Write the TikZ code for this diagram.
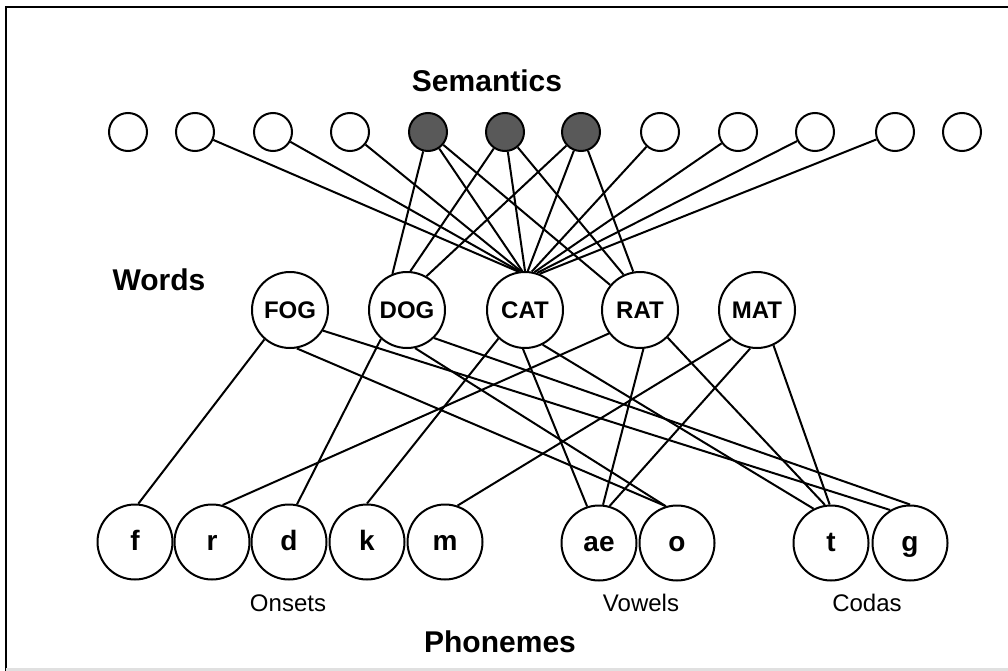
\documentclass[tikz,border=0pt]{standalone}
\usepackage{fontspec}
\setmainfont{Liberation Sans}
\begin{document}
\begin{tikzpicture}[x=1pt,y=-1pt,line width=2pt,
  sem/.style={circle,draw,minimum size=38pt,inner sep=0pt},
  semon/.style={sem,fill=black!65},
  word/.style={circle,draw,minimum size=76pt,inner sep=0pt,font=\fontsize{24}{24}\selectfont\bfseries},
  phon/.style={circle,draw,minimum size=75pt,inner sep=0pt,text height=18pt,text depth=2pt,font=\fontsize{28}{28}\selectfont\bfseries},
  layer/.style={font=\fontsize{30}{30}\selectfont\bfseries},
  group/.style={font=\fontsize{24}{24}\selectfont}]

\useasboundingbox (0,0) rectangle (1008,671);
\draw[line width=2.5pt] (6,671) -- (6,7) -- (1008,7);
\draw[black!12,line width=3pt] (6,669.5) -- (1008,669.5);

\node[layer] (semantics) at (487,81) {Semantics};
\node[layer] (words) at (159,280) {Words};
\node[layer] (phonemes) at (500,642) {Phonemes};
\node[group] (onsets) at (288,603) {Onsets};
\node[group] (vowels) at (641,603) {Vowels};
\node[group] (codas) at (867,603) {Codas};

\node[sem] (s1) at (128,132) {};
\node[sem] (s2) at (195,132) {};
\node[sem] (s3) at (273,132) {};
\node[sem] (s4) at (350,132) {};
\node[semon] (s5) at (428,132) {};
\node[semon] (s6) at (505,132) {};
\node[semon] (s7) at (581,132) {};
\node[sem] (s8) at (660,132) {};
\node[sem] (s9) at (738,132) {};
\node[sem] (s10) at (815,132) {};
\node[sem] (s11) at (895,132) {};
\node[sem] (s12) at (962,132) {};

\node[word] (fog) at (290,310) {FOG};
\node[word] (dog) at (407,310) {DOG};
\node[word] (cat) at (525,310) {CAT};
\node[word] (rat) at (640,310) {RAT};
\node[word] (mat) at (757,310) {MAT};

\node[phon] (f) at (135,542) {f};
\node[phon] (r) at (212,542) {r};
\node[phon] (d) at (289,542) {d};
\node[phon] (k) at (367,542) {k};
\node[phon] (m) at (445,542) {m};
\node[phon] (ae) at (599,543) {ae};
\node[phon] (o) at (677,543) {o};
\node[phon] (t) at (831,543) {t};
\node[phon] (g) at (910,543) {g};

% semantics to words
\draw (s2) edge (cat.100);
\draw (s3) edge (cat.98);
\draw (s4) edge (cat.96);
\draw (s5) edge (dog.112);
\draw (s5) edge (cat.94);
\draw (s5) edge (rat.140);
\draw (s6) edge (dog.85);
\draw (s6) edge (cat.90);
\draw (s6) edge (rat.115);
\draw (s7) edge (dog.60);
\draw (s7) edge (cat.86);
\draw (s7) edge (rat.100);
\draw (s8) edge (cat.80);
\draw (s9) edge (cat.76);
\draw (s10) edge (cat.72);
\draw (s11) edge (cat.68);

% words to phonemes
\draw (fog.-131) edge (f.85);
\draw (fog.-80) edge (o.107);
\draw (fog.-32) edge (g.121);
\draw (dog.-132) edge (d.78);
\draw (dog.-78) edge (o.107);
\draw (dog.-46) edge (g.90);
\draw (cat.-133) edge (k.90);
\draw (cat.-93) edge (ae.108);
\draw (cat.-63) edge (t.117);
\draw (rat.-143) edge (r.74);
\draw (rat.-85) edge (ae.84);
\draw (rat.-45) edge (t.99);
\draw (mat.-132) edge (m.71);
\draw (mat.-100) edge (ae.74);
\draw (mat.-65) edge (t.92);
\end{tikzpicture}
\end{document}
